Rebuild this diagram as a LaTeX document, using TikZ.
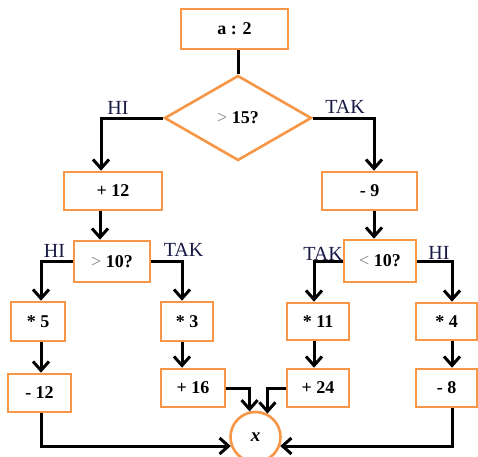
\documentclass[tikz,border=0pt]{standalone}
\usepackage{fontspec}
\setmainfont{Liberation Serif}
\usetikzlibrary{shapes.geometric,arrows.meta,calc}
\definecolor{boxorange}{RGB}{247,150,70}
\definecolor{labnavy}{RGB}{25,25,70}
\begin{document}
\begin{tikzpicture}[x=1pt,y=-1pt,
  every node/.style={font=\fontsize{18}{21}\selectfont},
  opbox/.style={draw=boxorange,line width=2.6pt,fill=white,rectangle,inner sep=0pt,font=\fontsize{18}{21}\selectfont\bfseries},
  cond/.style={draw=boxorange,line width=2.6pt,fill=white,diamond,inner sep=0pt,font=\fontsize{18}{21}\selectfont\bfseries},
  conn/.style={draw=black,line width=3pt},
  arr/.style={conn,-{Straight Barb[length=9pt,width=16pt,line width=3pt]}},
  lab/.style={text=labnavy,inner sep=0pt,font=\fontsize{20}{22}\selectfont}
]
\useasboundingbox (0,0) rectangle (478,456);
\newcommand{\gt}{{\color{gray}\mdseries >}}
\newcommand{\lt}{{\color{gray}\mdseries <}}
% nodes
\node[opbox,minimum width=107pt,minimum height=40pt] (a2) at (234.5,29) {a : 2};
\node[cond,minimum width=147pt,minimum height=85pt] (d1) at (238,118) {\gt{} 15?};
\node[opbox,minimum width=98pt,minimum height=38pt] (p12) at (113,191) {+ 12};
\node[opbox,minimum width=95pt,minimum height=38pt] (m9) at (369.5,191) {- 9};
\node[opbox,minimum width=76pt,minimum height=41pt] (g10) at (112,261.5) {\gt{} 10?};
\node[opbox,minimum width=72pt,minimum height=42pt] (l10) at (380,261) {\lt{} 10?};
\node[opbox,minimum width=54pt,minimum height=39pt] (s5) at (38,321.5) {* 5};
\node[opbox,minimum width=63pt,minimum height=38pt] (m12) at (39.5,393) {- 12};
\node[opbox,minimum width=52pt,minimum height=39pt] (s3) at (187,321.5) {* 3};
\node[opbox,minimum width=64pt,minimum height=38pt] (p16) at (193,388) {+ 16};
\node[opbox,minimum width=62pt,minimum height=37pt] (s11) at (318,321.5) {* 11};
\node[opbox,minimum width=62pt,minimum height=38pt] (p24) at (318,388) {+ 24};
\node[opbox,minimum width=61pt,minimum height=37pt] (s4) at (446.5,321.5) {* 4};
\node[opbox,minimum width=61pt,minimum height=38pt] (m8) at (446.5,388) {- 8};
\node[draw=boxorange,line width=2.6pt,fill=white,circle,minimum size=50pt,inner sep=0pt,font=\fontsize{19}{21}\selectfont\bfseries\itshape] (xc) at (255.5,437) {x};
% labels
\node[lab] (hi1) at (118,108) {HI};
\node[lab] (tak1) at (345,107) {TAK};
\node[lab] (hi2) at (54.5,251) {HI};
\node[lab] (tak2) at (183.5,249.5) {TAK};
\node[lab] (tak3) at (323,254) {TAK};
\node[lab] (hi3) at (439,253) {HI};
% guide coordinates
\coordinate (cA) at (101,0);
\coordinate (cB) at (374,0);
\coordinate (cC) at (100,0);
\coordinate (cD) at (41,0);
\coordinate (cE) at (182,0);
\coordinate (cF) at (314,0);
\coordinate (cG) at (452,0);
% connectors
\draw[conn] (a2.south -| d1.north) -- (d1.north);
\draw[arr] (d1.west) -| (cA |- p12.north);
\draw[arr] (d1.east) -| (cB |- m9.north);
\draw[arr] (cC |- p12.south) -- (cC |- g10.north);
\draw[arr] (cB |- m9.south) -- (cB |- l10.north);
\draw[arr] (g10.west) -| (cD |- s5.north);
\draw[arr] (g10.east) -| (cE |- s3.north);
\draw[arr] (l10.west) -| (cF |- s11.north);
\draw[arr] (l10.east) -| (cG |- s4.north);
\draw[arr] (cD |- s5.south) -- (cD |- m12.north);
\draw[arr] (cE |- s3.south) -- (cE |- p16.north);
\draw[arr] (cF |- s11.south) -- (cF |- p24.north);
\draw[arr] (cG |- s4.south) -- (cG |- m8.north);
\draw[arr] (cD |- m12.south) |- (xc.200);
\draw[arr] (cG |- m8.south) |- (xc.-20);
\draw[arr] (p16.east) -| (xc.103);
\draw[arr] (p24.west) -| (xc.63);
\end{tikzpicture}
\end{document}
